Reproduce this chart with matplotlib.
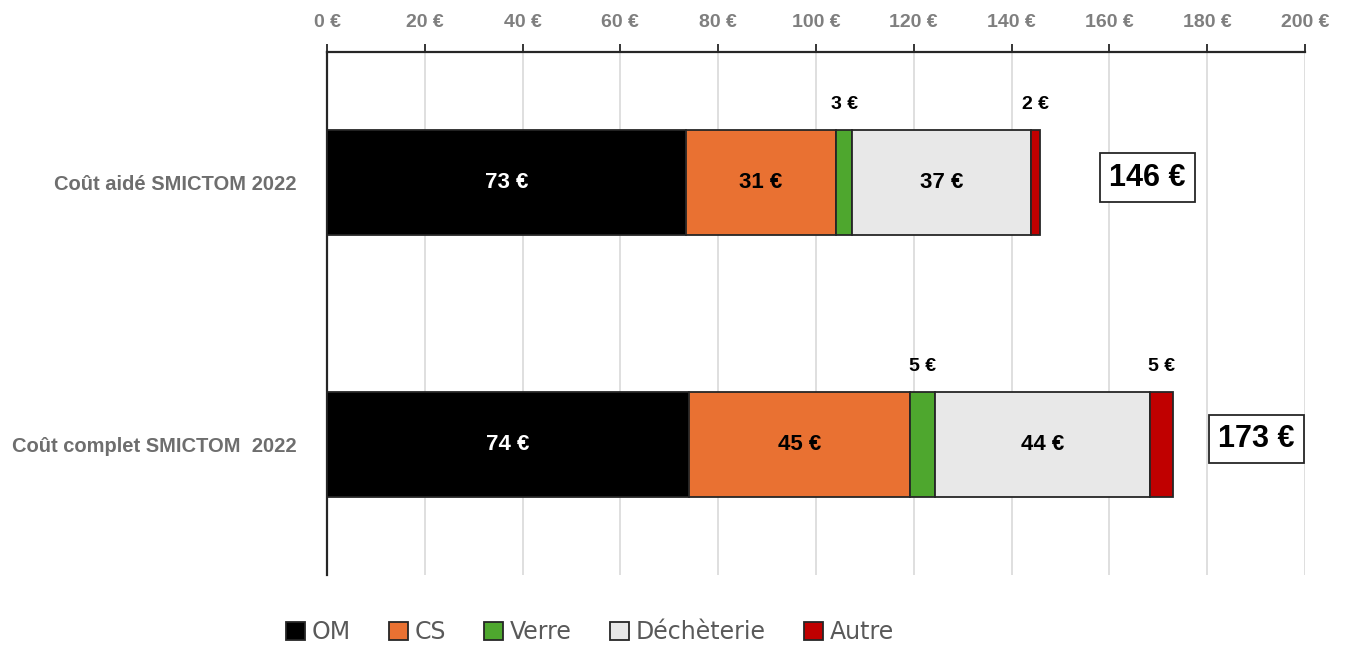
import numpy as np
import matplotlib
matplotlib.use("Agg")
import matplotlib.pyplot as plt

plt.rcParams['font.family'] = ['Liberation Sans', 'DejaVu Sans']

# %% data
categories = ["Coût aidé SMICTOM 2022", "Coût complet SMICTOM  2022"]
series = ["OM", "CS", "Verre", "Déchèterie", "Autre"]
om = [73.4, 74.0]
cs = [30.7, 45.2]
verre = [3.3, 5.1]
decheterie = [36.6, 44.0]
autre = [1.8, 4.7]
totals = [146, 173]
ticks = list(range(0, 201, 20))

colors = ["#000000", "#E97132", "#4EA72E", "#E8E8E8", "#C00000"]
label_colors = ["white", "black", "black", "black", "black"]
outside = [False, False, True, False, True]

# %% plot
fig = plt.figure(figsize=(13.49, 6.48), dpi=100)
ax = fig.add_axes([327/1349, 1-575/648, (1305-327)/1349, (575-52)/648])

values = [om, cs, verre, decheterie, autre]
ypos = np.arange(len(categories))
left = np.zeros(len(categories))
for name, vals, col, lc, out in zip(series, values, colors, label_colors, outside):
    vals = np.array(vals)
    ax.barh(ypos, vals, left=left, height=0.40, color=col, edgecolor="#262626",
            linewidth=1.3, label=name, zorder=3)
    for y, l, v in zip(ypos, left, vals):
        txt = "%d €" % round(v)
        if out:
            ax.text(l + v/2, y - 0.265, txt, ha='center', va='bottom',
                    fontsize=14, fontweight='bold', color='black')
        else:
            ax.text(l + v/2, y, txt, ha='center', va='center',
                    fontsize=16, fontweight='bold', color=lc, zorder=4)
    left = left + vals

# total boxes
offsets = [22, 17]
for y, l, t, o in zip(ypos, left, totals, offsets):
    ax.text(l + o, y - 0.02, "%d €" % t, ha='center', va='center', fontsize=22,
            fontweight='bold', color='black',
            bbox=dict(boxstyle='square,pad=0.3', fc='white', ec='#262626', lw=1.3))

ax.set_xlim(0, 200)
ax.set_ylim(1.5, -0.5)
ax.set_xticks(ticks)
ax.set_xticklabels(["%d €" % t for t in ticks])
ax.xaxis.tick_top()
ax.tick_params(axis='x', direction='out', length=6, width=1.3, color='#262626',
               labelsize=14, labelcolor='#7F7F7F', pad=9)
for lab in ax.get_xticklabels():
    lab.set_fontweight('bold')
ax.set_yticks(ypos)
ax.set_yticklabels(categories)
ax.tick_params(axis='y', length=0, labelsize=14.5, labelcolor='#6E6E6E', pad=22)
for lab in ax.get_yticklabels():
    lab.set_fontweight('bold')

ax.grid(True, axis='x', color='#D9D9D9', linewidth=1.2, zorder=0)
for s in ['right', 'bottom']:
    ax.spines[s].set_visible(False)
ax.spines['top'].set_color('#262626')
ax.spines['top'].set_linewidth(1.6)
ax.spines['left'].set_color('#262626')
ax.spines['left'].set_linewidth(1.6)

leg = fig.legend(loc='center', bbox_to_anchor=(590/1349, 1-632/648), ncol=5,
                 frameon=False, prop={'family': ['Liberation Sans Narrow', 'DejaVu Sans'], 'size': 17},
                 handlelength=0.8, handleheight=0.8,
                 handletextpad=0.3, columnspacing=1.6)
for t in leg.get_texts():
    t.set_color('#595959')

fig.savefig("out.png", dpi=100)
